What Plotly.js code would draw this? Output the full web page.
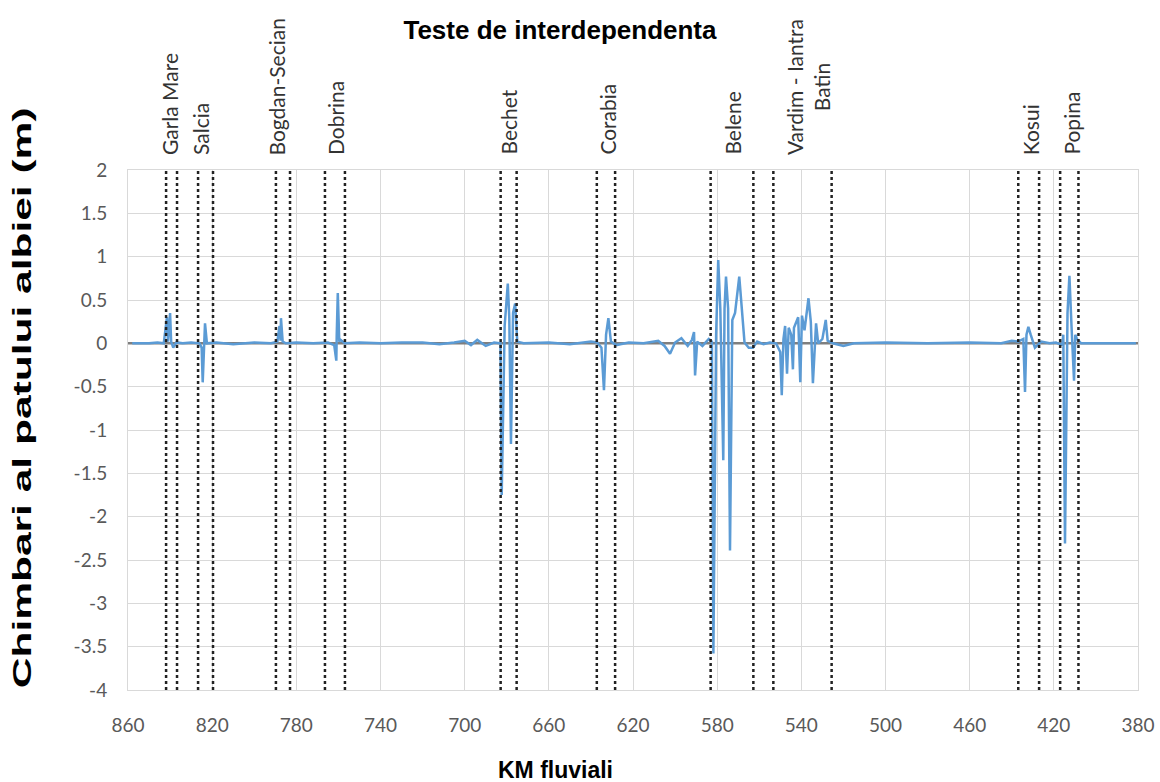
<!DOCTYPE html>
<html>
<head>
<meta charset="utf-8">
<script src="https://cdn.plot.ly/plotly-3.0.1.min.js"></script>
<style>html,body{margin:0;padding:0;background:#fff;}#chart{width:1160px;height:782px;}</style>
</head>
<body>
<div id="chart"></div>
<script>
// ---- data ----
const kmFluvial = [858,850,846,843,841.5,841,840,839.5,838.5,837,834,830,826,825,824.5,823.8,823.4,822.5,818,810,800,792,789,788,787.5,787.3,786.5,785,780,772,765,762,761,760.8,760.3,759.6,759,757,750,740,730,720,712,705,700,697,694,690,686,683,682.4,681,679.5,678.8,678,677,676,675,672,660,650,640,637,635,633.8,632.8,631.7,630.5,628,622,615,608,605,602.4,600,597,594,592,591,590.5,589.5,587,584,582.5,581.8,580.5,579.5,578.5,577.1,576.5,575.8,574.8,573.9,572.8,571.5,569.5,567,565,563,561,558,555,552,550,549.3,548.5,547.7,546.8,546,544.8,544,543.5,541.5,540.5,539.7,538.5,536.6,535.5,534.5,533,532,530,528.4,527.5,525,520,515,500,480,460,445,440,437,434.5,433.7,433,432.1,431,429,426,422,419,416,415.5,414.7,413.5,412.6,411.6,410.4,409.8,409,407,400,385,381];
const chimbari = [0,0,0.01,0,0.3,0.02,0.35,0.02,-0.05,0.01,0,0.01,0,-0.05,-0.45,0.05,0.23,0,0.01,-0.01,0.01,0,0.02,0.2,0.03,0.29,0.02,0,0.01,0,0.01,-0.02,-0.2,0.1,0.58,0.02,0.04,0,0.01,0,0.01,0.01,-0.01,0.01,0.03,-0.02,0.04,-0.03,0.01,0,-1.75,0.2,0.69,0.3,-1.16,0.35,0.46,0.02,0,0.01,-0.01,0.02,0.01,-0.05,-0.54,0.1,0.29,0.02,-0.02,0.01,0,0.03,-0.03,-0.12,0.01,0.06,-0.03,0.04,0.13,-0.37,0.02,-0.03,0.05,0.02,-3.58,0.1,0.96,0.4,-1.35,0.4,0.77,0.4,-2.39,0.27,0.35,0.77,0.01,-0.05,-0.05,0.02,-0.01,0.01,0,-0.1,-0.6,0.05,0.2,-0.35,0.18,0.1,-0.3,0.18,0.3,-0.45,0.32,0.15,0.52,0.25,-0.46,0.23,0,0.05,0.27,0.03,0,-0.03,0,0.01,0,0.01,0,0.03,0.02,0.05,-0.56,0.1,0.19,0.1,-0.05,0.02,0,0.01,-0.02,0.1,-2.31,0.35,0.78,0.2,-0.43,0.1,0.05,0,0,0,0];
const kmInitial = [860, 380];
const chimbariInitial = [0, 0];
const testLimitsKm = [841.9,836.7,826.7,819.6,789.7,783,766.4,756.9,682.9,675.3,637.2,628.5,583.1,562.8,553.3,525.6,436.9,427,417,408.3];
const stationNames = ["Garla Mare","Salcia","Bogdan-Secian","Dobrina","Bechet","Corabia","Belene","Vardim - Iantra<br>Batin","Kosui","Popina"];
const stationKm = [840.5,825.8,789.2,761.6,679.4,632.3,572.9,536.8,431,411.8];
const xTickVals = [860,820,780,740,700,660,620,580,540,500,460,420,380];
const yTickVals = [2,1.5,1,0.5,0,-0.5,-1,-1.5,-2,-2.5,-3,-3.5,-4];
const yTickText = ["2","1.5","1","0.5","0","-0.5","-1","-1.5","-2","-2.5","-3","-3.5","-4"];
const chartTitle = "Teste de interdependenta";
const xTitle = "KM fluviali";
const yTitle = "Chimbari al patului albiei (m)";

// ---- chart ----
const tickFont = {family: "Lato, 'Open Sans', sans-serif", size: 19, color: "#595959"};
const xTitleFont = {family: "'Liberation Sans', Arial, sans-serif", size: 23, color: "#000", weight: "bold"};
const yTitleFont = {family: "'Liberation Sans', Arial, sans-serif", size: 25, color: "#000", weight: "bold"};

const traces = [
  {x: kmInitial, y: chimbariInitial, type: "scatter", mode: "lines",
   line: {color: "#7f7f7f", width: 2.5}, hoverinfo: "skip", showlegend: false},
  {x: kmFluvial, y: chimbari, type: "scatter", mode: "lines",
   line: {color: "#5b9bd5", width: 2.5}, showlegend: false}
];

const shapes = testLimitsKm.map(k => ({
  type: "line", xref: "x", yref: "paper", x0: k, x1: k, y0: 0, y1: 1,
  line: {color: "#222", width: 2.5, dash: "3px,3px"}, layer: "above"
}));

const annotations = stationNames.map((n, i) => ({
  text: n, x: stationKm[i], xref: "x", y: 1, yref: "paper",
  xanchor: "center", yanchor: "bottom", yshift: 13, textangle: -90,
  showarrow: false, align: "center",
  font: {family: "Lato, 'Open Sans', sans-serif", size: 21, color: "#333"}
}));
annotations.push({text: xTitle, xref: "paper", yref: "paper", x: 0.4228, y: -0.154,
  xanchor: "center", yanchor: "middle", showarrow: false, font: xTitleFont});
annotations.push({text: yTitle, xref: "paper", yref: "paper", x: -0.105, y: 0.562,
  xanchor: "center", yanchor: "middle", textangle: -90, showarrow: false, font: yTitleFont});
const yTitleIndex = annotations.length - 1;

const layout = {
  width: 1160, height: 782,
  margin: {l: 128, r: 22, t: 170, b: 92},
  paper_bgcolor: "#fff", plot_bgcolor: "#fff",
  title: {text: chartTitle, x: 0.4277, xref: "paper", xanchor: "center",
          y: 0.9616, yref: "container", yanchor: "middle",
          font: {family: "'Liberation Sans', Arial, sans-serif", size: 26, color: "#000", weight: "bold"}},
  xaxis: {range: [860, 380], tickvals: xTickVals, showgrid: true, gridcolor: "#d9d9d9",
          gridwidth: 1, zeroline: false, showline: true, mirror: true, linecolor: "#d9d9d9",
          ticks: "", tickfont: tickFont, ticklabelstandoff: 18},
  yaxis: {range: [-4, 2], tickvals: yTickVals, ticktext: yTickText, showgrid: true,
          gridcolor: "#d9d9d9", gridwidth: 1, zeroline: false, showline: true, mirror: true,
          linecolor: "#d9d9d9", ticks: "", tickfont: tickFont, ticklabelstandoff: 16},
  shapes: shapes,
  annotations: annotations,
  showlegend: false
};
Plotly.newPlot("chart", traces, layout, {displayModeBar: false, staticPlot: true}).then(gd => {
  // the reference's vertical title is drawn stretched along its length
  const g = gd.querySelector('.annotation[data-index="' + yTitleIndex + '"]');
  if (!g) return;
  const t = g.querySelector('text.annotation-text');
  if (!t) return;
  const bb = t.getBBox();
  const cx = bb.x + bb.width / 2, cy = bb.y + bb.height / 2;
  t.setAttribute('transform', 'translate(' + cx + ',' + cy + ') scale(1.7,1) translate(' + (-cx) + ',' + (-cy) + ')');
});
</script>
</body>
</html>
